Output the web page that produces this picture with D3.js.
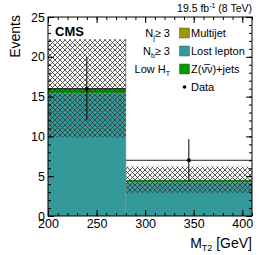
<!DOCTYPE html>
<html>
<head>
<meta charset="utf-8">
<script src="https://cdn.jsdelivr.net/npm/d3@7"></script>
<style>
    body { margin: 0; background: #fff; }
    #chart { width: 266px; height: 255px; }
    text { font-family: "Liberation Sans", Arial, sans-serif; fill: #000; }
    .axis path { stroke: #000; }
    .axis line { stroke: #000; }
</style>
</head>
<body>
<div id="chart"></div>
<script>

// bin edges in MT2 [GeV]
var binEdges = [200, 280, 410];
var multijet = [0.03, 0.02];
var lostLepton = [15.4, 4.25];
var zinv = [0.6, 0.25];
var uncLow = [9.85, 2.87];
var uncHigh = [22.2, 6.2];

var dataX = [240, 345];
var dataY = [16, 7];
var dataErr = [4, 2.65];

var xTicks = [200, 250, 300, 350, 400];
var yTicks = [0, 5, 10, 15, 20, 25];

var legendNames = ["Multijet", "Lost lepton", "Z(ν\u0305ν)+jets", "Data"];
var legendColors = ["#999900", "#339999", "#009900", null];

var width = 266;
var height = 255;
var margin = {top: 17, left: 48, right: 14, bottom: 39};

var svg = d3.select("#chart")
    .append("svg")
    .attr("width", width)
    .attr("height", height);

var defs = svg.append("defs");
var pat = defs.append("pattern")
    .attr("id", "hatch")
    .attr("patternUnits", "userSpaceOnUse")
    .attr("width", 5)
    .attr("height", 5);
pat.append("path")
    .attr("d", "M0,0 L5,5 M5,0 L0,5")
    .attr("stroke", "#333")
    .attr("stroke-width", 0.8)
    .attr("fill", "none");

var xScale = d3.scaleLinear()
    .domain([200, 410])
    .range([margin.left, width - margin.right]);

var yScale = d3.scaleLinear()
    .domain([0, 25])
    .range([height - margin.bottom, margin.top]);

// stacked bins
var bins = binEdges.slice(0, -1).map(function(e, i) {
    return {x0: e, x1: binEdges[i + 1], mj: multijet[i], ll: lostLepton[i], z: zinv[i],
            lo: uncLow[i], hi: uncHigh[i]};
});

var stackKeys = ["ll", "mj", "z"];
var stackColors = {mj: "#999900", ll: "#339999", z: "#009900"};
var series = d3.stack().keys(stackKeys)(bins);

series.forEach(function(s) {
    svg.selectAll(null)
        .data(s)
        .enter()
        .append("rect")
            .attr("x", function(d) { return xScale(d.data.x0); })
            .attr("width", function(d) { return xScale(d.data.x1) - xScale(d.data.x0); })
            .attr("y", function(d) { return yScale(d[1]); })
            .attr("height", function(d) { return yScale(d[0]) - yScale(d[1]); })
            .attr("fill", stackColors[s.key]);
});

// outline between the bins
svg.append("path")
    .attr("d", "M" + xScale(280) + "," + yScale(bins[0].hi) + "V" + yScale(0))
    .attr("stroke", "#888")
    .attr("stroke-width", 1);

// uncertainty band
svg.selectAll(".unc")
    .data(bins)
    .enter()
    .append("rect")
        .attr("class", "unc")
        .attr("x", function(d) { return xScale(d.x0); })
        .attr("width", function(d) { return xScale(d.x1) - xScale(d.x0); })
        .attr("y", function(d) { return yScale(d.hi); })
        .attr("height", function(d) { return yScale(d.lo) - yScale(d.hi); })
        .attr("fill", "url(#hatch)");

// data points with bin-width x errors
var data = dataX.map(function(x, i) {
    return {x: x, y: dataY[i], e: dataErr[i], x0: binEdges[i], x1: binEdges[i + 1]};
});

svg.selectAll(".xerr")
    .data(data)
    .enter()
    .append("line")
        .attr("x1", function(d) { return xScale(d.x0); })
        .attr("x2", function(d) { return xScale(d.x1); })
        .attr("y1", function(d) { return yScale(d.y); })
        .attr("y2", function(d) { return yScale(d.y); })
        .attr("stroke", "#222")
        .attr("stroke-width", 1);

svg.selectAll(".yerr")
    .data(data)
    .enter()
    .append("line")
        .attr("x1", function(d) { return xScale(d.x); })
        .attr("x2", function(d) { return xScale(d.x); })
        .attr("y1", function(d) { return yScale(d.y - d.e); })
        .attr("y2", function(d) { return yScale(d.y + d.e); })
        .attr("stroke", "#000")
        .attr("stroke-width", 1);

svg.selectAll(".pt")
    .data(data)
    .enter()
    .append("circle")
        .attr("cx", function(d) { return xScale(d.x); })
        .attr("cy", function(d) { return yScale(d.y); })
        .attr("r", 2)
        .attr("fill", "#000");

// frame and axes
var x0 = margin.left, x1 = width - margin.right;
var y0 = height - margin.bottom, y1 = margin.top;

var xMinor = d3.range(200, 411, 10);
var yMinor = d3.range(0, 26, 1);

function addAxis(axis, tr, size, vals, labels) {
    var g = svg.append("g")
        .attr("class", "axis")
        .attr("transform", tr)
        .call(axis.tickValues(vals).tickSize(size).tickPadding(labels ? 3 : 0)
            .tickFormat(labels ? d3.format("d") : ""));
    g.select(".domain").remove();
    g.selectAll("text").style("font-size", "12.5px");
    return g;
}

addAxis(d3.axisBottom(xScale), "translate(0," + y0 + ")", -6, xTicks, true);
addAxis(d3.axisBottom(xScale), "translate(0," + y0 + ")", -3, xMinor, false);
addAxis(d3.axisTop(xScale), "translate(0," + y1 + ")", -6, xTicks, false);
addAxis(d3.axisTop(xScale), "translate(0," + y1 + ")", -3, xMinor, false);
addAxis(d3.axisLeft(yScale), "translate(" + x0 + ",0)", -6, yTicks, true);
addAxis(d3.axisLeft(yScale), "translate(" + x0 + ",0)", -3, yMinor, false);
addAxis(d3.axisRight(yScale), "translate(" + x1 + ",0)", -6, yTicks, false);
addAxis(d3.axisRight(yScale), "translate(" + x1 + ",0)", -3, yMinor, false);

svg.append("rect")
    .attr("x", x0)
    .attr("y", y1)
    .attr("width", x1 - x0)
    .attr("height", y0 - y1)
    .attr("fill", "none")
    .attr("stroke", "#000")
    .attr("stroke-width", 1);

// labels
var xLab = svg.append("text")
    .attr("x", x1)
    .attr("y", 248)
    .attr("text-anchor", "end")
    .style("font-size", "14px");
xLab.append("tspan").text("M");
xLab.append("tspan").attr("dy", 3).style("font-size", "9px").text("T2");
xLab.append("tspan").attr("dy", -3).text(" [GeV]");

svg.append("text")
    .attr("transform", "rotate(-90)")
    .attr("x", -15)
    .attr("y", 20)
    .attr("text-anchor", "end")
    .style("font-size", "14px")
    .text("Events");

svg.append("text")
    .attr("x", 55)
    .attr("y", 36)
    .style("font-size", "13px")
    .style("font-weight", "bold")
    .text("CMS");

var lumi = svg.append("text")
    .attr("x", x1)
    .attr("y", 12)
    .attr("text-anchor", "end")
    .style("font-size", "10.5px");
lumi.append("tspan").text("19.5 fb");
lumi.append("tspan").attr("dy", -4).style("font-size", "7px").text("-1");
lumi.append("tspan").attr("dy", 4).text(" (8 TeV)");

// selection text
var selRows = [["N", "j", "\u2265 3"], ["N", "b", "\u2265 3"], ["Low H", "T", ""]];
var rowY = [37, 55, 73, 91];

selRows.forEach(function(r, i) {
    var t = svg.append("text")
        .attr("x", 170)
        .attr("y", rowY[i])
        .attr("text-anchor", "end")
        .style("font-size", "11px");
    t.append("tspan").text(r[0]);
    t.append("tspan").attr("dy", 3).style("font-size", "7px").text(r[1]);
    t.append("tspan").attr("dy", -3).text(r[2]);
});

legendNames.forEach(function(name, i) {
    if (legendColors[i]) {
        svg.append("rect")
            .attr("x", 179.5)
            .attr("y", rowY[i] - 9)
            .attr("width", 10)
            .attr("height", 10)
            .attr("fill", legendColors[i])
            .attr("stroke", "#555")
            .attr("stroke-width", 0.5);
    } else {
        svg.append("circle")
            .attr("cx", 184.5)
            .attr("cy", rowY[i] - 4)
            .attr("r", 1.8)
            .attr("fill", "#000");
    }
    svg.append("text")
        .attr("x", 191)
        .attr("y", rowY[i])
        .style("font-size", "11px")
        .text(name);
});

</script>
</body>
</html>
